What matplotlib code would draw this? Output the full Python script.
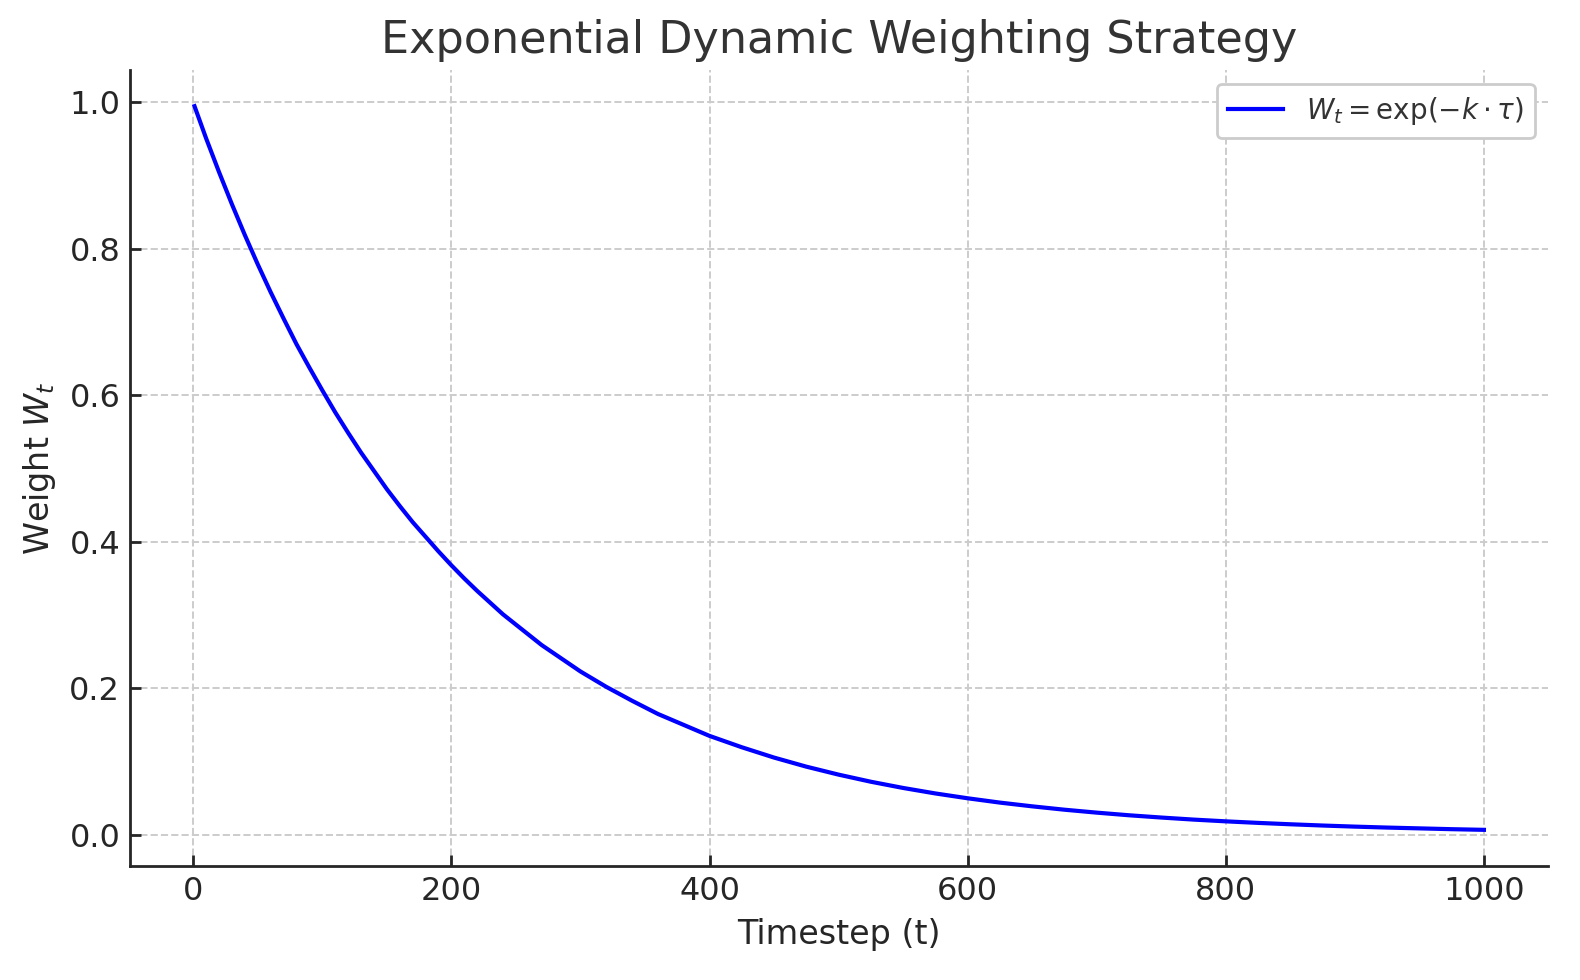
import matplotlib
matplotlib.use("Agg")
import matplotlib.pyplot as plt

# valores (timestep, peso)
timesteps = [1, 10, 20, 30, 40, 50, 60, 70, 80, 90, 100, 110, 120, 130, 140, 150,
             160, 170, 180, 190, 200, 210, 220, 230, 240, 250, 260, 270, 280, 290,
             300, 320, 340, 360, 380, 400, 425, 450, 475, 500, 525, 550, 575, 600,
             625, 650, 675, 700, 725, 750, 775, 800, 825, 850, 875, 900, 925, 950,
             975, 1000]
pesos = [0.995, 0.951, 0.905, 0.861, 0.819, 0.779, 0.741, 0.705, 0.670, 0.638,
         0.607, 0.577, 0.549, 0.522, 0.497, 0.472, 0.449, 0.427, 0.407, 0.387,
         0.368, 0.350, 0.333, 0.317, 0.301, 0.287, 0.273, 0.259, 0.247, 0.235,
         0.223, 0.202, 0.183, 0.165, 0.150, 0.135, 0.1195, 0.1054, 0.0930, 0.0821,
         0.0724, 0.0639, 0.0564, 0.0498, 0.0439, 0.0388, 0.0342, 0.0302, 0.0266,
         0.0235, 0.0207, 0.0183, 0.0162, 0.0143, 0.0126, 0.0111, 0.0098, 0.0087,
         0.0076, 0.0067]

texto = "#262626"
plt.rcParams['font.family'] = ['DejaVu Sans']

fig = plt.figure(figsize=(7.9, 4.9), dpi=200)
ax = fig.add_axes([0.0823, 0.1163, 0.8977, 0.8123])

ax.plot(timesteps, pesos, color="blue", linewidth=1.5,
        label=r"$W_t = \exp(-k \cdot \tau)$")

ax.grid(True, linestyle="--", color="#cccccc", linewidth=0.7)
ax.set_axisbelow(True)
for lado in ["top", "right"]:
    ax.spines[lado].set_visible(False)
for lado in ["left", "bottom"]:
    ax.spines[lado].set_color(texto)
    ax.spines[lado].set_linewidth(1.0)

ax.tick_params(direction="in", length=4, width=1.0, colors=texto, labelsize=11.5)
ax.set_xticks([0, 200, 400, 600, 800, 1000])
ax.set_yticks([0.0, 0.2, 0.4, 0.6, 0.8, 1.0])

ax.set_title("Exponential Dynamic Weighting Strategy", fontsize=16, color="#333333")
ax.set_xlabel("Timestep (t)", fontsize=12, color=texto)
ax.set_ylabel(r"Weight $W_t$", fontsize=12, color=texto)

leg = ax.legend(loc="upper right", fontsize=10, framealpha=1, edgecolor="#cccccc")
for t in leg.get_texts():
    t.set_color("#333333")

fig.savefig("out.png", dpi=200)
